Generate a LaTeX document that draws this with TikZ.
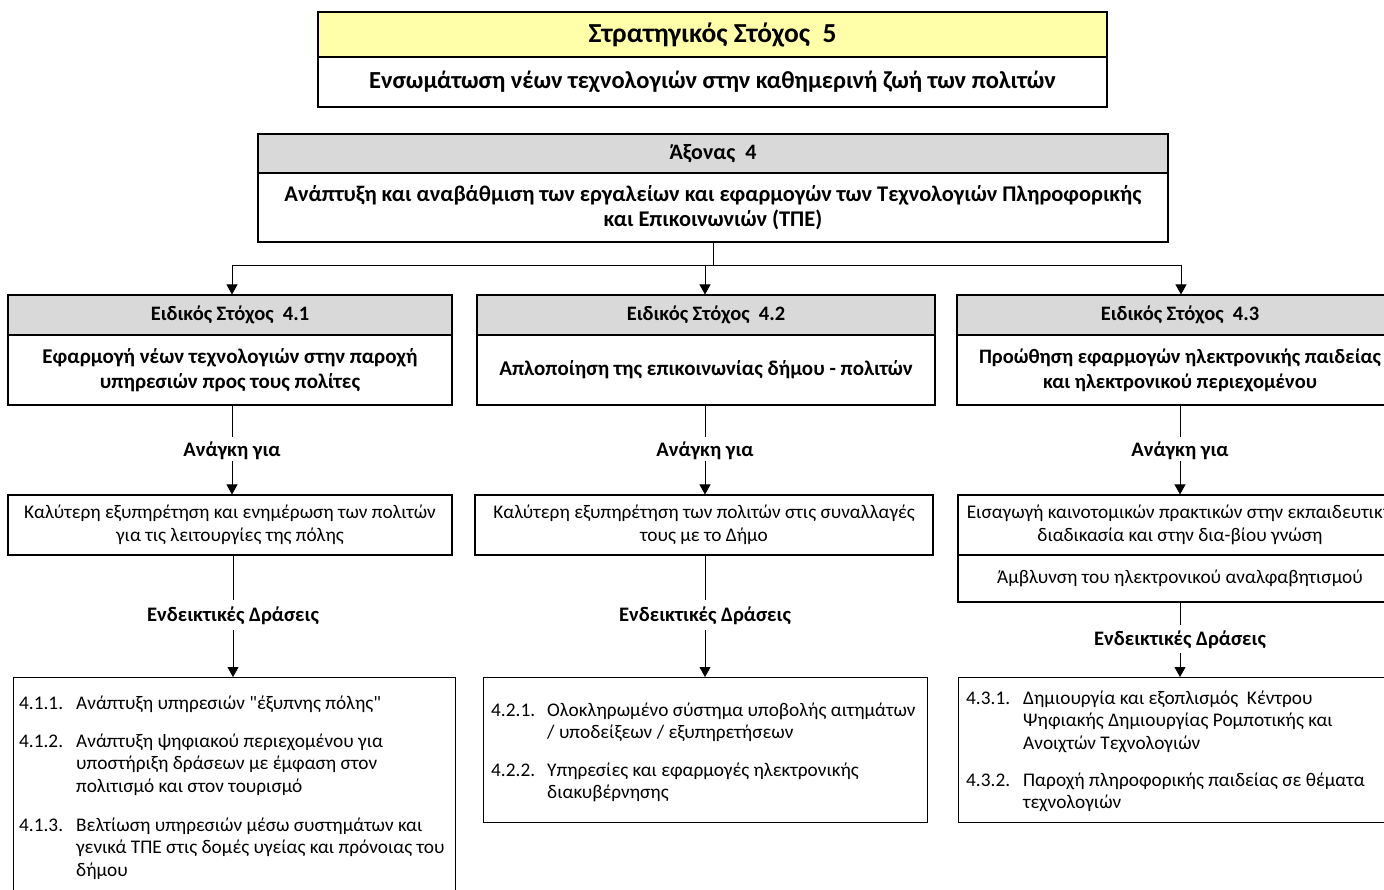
\documentclass[tikz,border=0pt]{standalone}
\usepackage{fontspec}
\setmainfont{Carlito}[Ligatures=TeXOff]
\usetikzlibrary{arrows.meta}
\definecolor{hdryellow}{HTML}{FFFFAA}
\definecolor{hdrgray}{HTML}{D9D9D9}
\newcommand{\itemtxt}[2]{\parbox[t]{#1}{\raggedright\baselineskip=22.8pt #2}}
\begin{document}
\begin{tikzpicture}[x=1pt,y=-1pt,
  box/.style={draw, line width=1.1pt, inner sep=0pt, align=center, font=\fontsize{19.3}{23}\selectfont},
  bbox/.style={box, font=\fontsize{21}{25}\selectfont\bfseries},
  hdr/.style={box, fill=hdrgray, font=\fontsize{20.5}{24}\selectfont\bfseries},
  lbl/.style={inner sep=0pt, font=\fontsize{20.6}{24}\selectfont\bfseries},
  itm/.style={inner sep=0pt, anchor=base west, font=\fontsize{19.3}{23}\selectfont},
  conn/.style={line width=0.9pt},
  arr/.style={conn, -{Triangle[length=10pt,width=11pt]}}
]
\path[use as bounding box] (0,0) rectangle (1384,890);
\clip (0,0) rectangle (1384,890);

% Strategic goal
\node[box, line width=2pt, fill=hdryellow, minimum width=789, minimum height=45,
      font=\fontsize{27.5}{32}\selectfont\bfseries] (sth) at (712.5,34.5) {Στρατηγικός Στόχος~~5};
\node[box, line width=2pt, minimum width=789, minimum height=50,
      font=\fontsize{24.5}{28}\selectfont\bfseries] (stb) at (712.5,82) {Ενσωμάτωση νέων τεχνολογιών στην καθημερινή ζωή των πολιτών};

% Axis
\node[hdr, minimum width=910, minimum height=39, font=\fontsize{22}{26}\selectfont\bfseries] (axh) at (713,153.5) {Άξονας~~4};
\node[bbox, minimum width=910, minimum height=69, font=\fontsize{22.4}{25.5}\selectfont\bfseries] (axb) at (713,207.5)
  {Ανάπτυξη και αναβάθμιση των εργαλείων και εφαρμογών των Τεχνολογιών Πληροφορικής\\ και Επικοινωνιών (ΤΠΕ)};

% Specific goals
\node[hdr, minimum width=444, minimum height=40] (e1h) at (230,315) {Ειδικός Στόχος~~4.1};
\node[bbox, minimum width=444, minimum height=70] (e1b) at (230,370) {Εφαρμογή νέων τεχνολογιών στην παροχή\\ υπηρεσιών προς τους πολίτες};
\node[hdr, minimum width=458, minimum height=40] (e2h) at (706,315) {Ειδικός Στόχος~~4.2};
\node[bbox, minimum width=458, minimum height=70] (e2b) at (706,370) {Απλοποίηση της επικοινωνίας δήμου - πολιτών};
\node[hdr, minimum width=446, minimum height=40] (e3h) at (1180,315) {Ειδικός Στόχος~~4.3};
\node[bbox, minimum width=446, minimum height=70, font=\fontsize{20.5}{25}\selectfont\bfseries] (e3b) at (1180,370) {Προώθηση εφαρμογών ηλεκτρονικής παιδείας\\ και ηλεκτρονικού περιεχομένου};

% connectors from axis
\coordinate (j) at (713,265);
\coordinate (jl) at (232,265);
\coordinate (jm) at (705,265);
\coordinate (jr) at (1181,265);
\draw[conn] (axb.south -| j) -- (j);
\draw[conn] (jl) -- (jr);
\draw[arr] (jl) -- (jl |- e1h.north);
\draw[arr] (jm) -- (jm |- e2h.north);
\draw[arr] (jr) -- (jr |- e3h.north);

% Need labels
\node[lbl] (ag1) at (232,451) {Ανάγκη για};
\node[lbl] (ag2) at (705,451) {Ανάγκη για};
\node[lbl] (ag3) at (1180,451) {Ανάγκη για};

% Need boxes
\node[box, minimum width=444, minimum height=60] (n1) at (230,525) {Καλύτερη εξυπηρέτηση και ενημέρωση των πολιτών\\ για τις λειτουργίες της πόλης};
\node[box, minimum width=458, minimum height=60] (n2) at (704,525) {Καλύτερη εξυπηρέτηση των πολιτών στις συναλλαγές\\ τους με το Δήμο};
\node[box, minimum width=444, minimum height=60] (n3a) at (1180,525) {Εισαγωγή καινοτομικών πρακτικών στην εκπαιδευτική\\ διαδικασία και στην δια-βίου γνώση};
\node[box, minimum width=444, minimum height=47] (n3b) at (1180,578.5) {Άμβλυνση του ηλεκτρονικού αναλφαβητισμού};

\foreach \i/\b/\n in {1/e1b/n1,2/e2b/n2,3/e3b/n3a}{
  \draw[conn] (ag\i |- \b.south) -- ([yshift=14pt]ag\i.center);
  \draw[arr] ([yshift=-10pt]ag\i.center) -- (ag\i |- \n.north);
}

% Indicative actions labels
\node[lbl] (ed1) at (233,616) {Ενδεικτικές Δράσεις};
\node[lbl] (ed2) at (705,616) {Ενδεικτικές Δράσεις};
\node[lbl] (ed3) at (1180,640) {Ενδεικτικές Δράσεις};

% Action boxes
\node[draw, line width=1.1pt, inner sep=0pt, minimum width=442, minimum height=230, anchor=north west] (a1) at (13,677) {};
\node[draw, line width=1.1pt, inner sep=0pt, minimum width=444, minimum height=145, anchor=north west] (a2) at (483,677) {};
\node[draw, line width=1.1pt, inner sep=0pt, minimum width=444, minimum height=145, anchor=north west] (a3) at (958,677) {};

\draw[conn] (ed1 |- n1.south) -- ([yshift=16pt]ed1.center);
\draw[arr] ([yshift=-14pt]ed1.center) -- (ed1 |- a1.north);
\draw[conn] (ed2 |- n2.south) -- ([yshift=16pt]ed2.center);
\draw[arr] ([yshift=-14pt]ed2.center) -- (ed2 |- a2.north);
\draw[conn] (ed3 |- n3b.south) -- ([yshift=15pt]ed3.center);
\draw[arr] ([yshift=-13pt]ed3.center) -- (ed3 |- a3.north);

% Items box 1
\node[itm] (l11) at (19,709) {4.1.1.};
\node[itm] (t11) at (76,709) {\itemtxt{400pt}{Ανάπτυξη υπηρεσιών "έξυπνης πόλης"}};
\node[itm] (l12) at (19,747) {4.1.2.};
\node[itm] (t12) at (76,747) {\itemtxt{400pt}{Ανάπτυξη ψηφιακού περιεχομένου για\\ υποστήριξη δράσεων με έμφαση στον\\ πολιτισμό και στον τουρισμό}};
\node[itm] (l13) at (19,831) {4.1.3.};
\node[itm] (t13) at (76,831) {\itemtxt{400pt}{Βελτίωση υπηρεσιών μέσω συστημάτων και\\ γενικά ΤΠΕ στις δομές υγείας και πρόνοιας του\\ δήμου}};

% Items box 2
\node[itm] (l21) at (491,716) {4.2.1.};
\node[itm] (t21) at (547,716) {\itemtxt{400pt}{Ολοκληρωμένο σύστημα υποβολής αιτημάτων\\ / υποδείξεων / εξυπηρετήσεων}};
\node[itm] (l22) at (491,776) {4.2.2.};
\node[itm] (t22) at (547,776) {\itemtxt{400pt}{Υπηρεσίες και εφαρμογές ηλεκτρονικής\\ διακυβέρνησης}};

% Items box 3
\node[itm] (l31) at (966,704) {4.3.1.};
\node[itm] (t31) at (1023,704) {\itemtxt{400pt}{Δημιουργία και εξοπλισμός~~Κέντρου\\ Ψηφιακής Δημιουργίας Ρομποτικής και\\ Ανοιχτών Τεχνολογιών}};
\node[itm] (l32) at (966,786) {4.3.2.};
\node[itm] (t32) at (1023,786) {\itemtxt{400pt}{Παροχή πληροφορικής παιδείας σε θέματα\\ τεχνολογιών}};
\end{tikzpicture}
\end{document}
